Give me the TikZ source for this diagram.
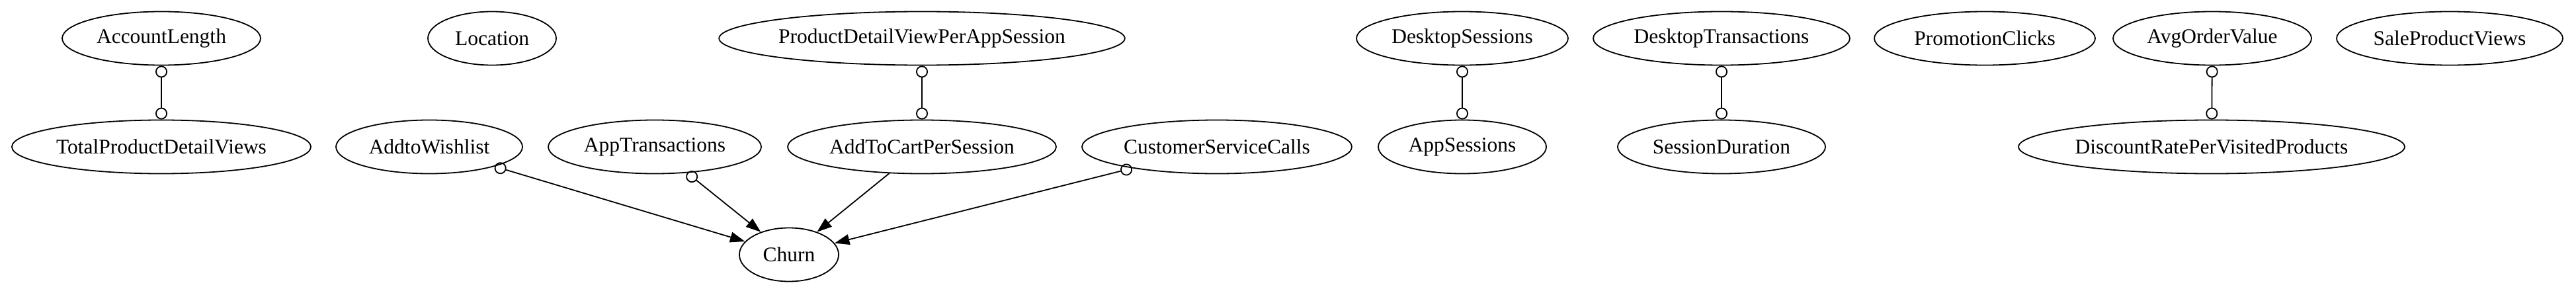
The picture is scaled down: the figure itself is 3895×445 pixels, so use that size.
\documentclass[tikz,border=0pt]{standalone}
\usepackage{fontspec}
\setmainfont{Liberation Serif}
\usetikzlibrary{shapes.geometric,arrows.meta}

\begin{document}
\begin{tikzpicture}[x=0.4444pt,y=0.4444pt,
  var/.style={draw,ellipse,line width=0.8pt,inner sep=0pt,minimum height=36pt,font=\fontsize{14}{16}\selectfont},
  link/.style={line width=0.8pt,{Circle[open,length=8pt,width=8pt]}-{Circle[open,length=8pt,width=8pt]}},
  cause/.style={line width=0.8pt,{Circle[open,length=8pt,width=8pt]}-{Triangle[length=10pt,width=7pt]}},
  plain/.style={line width=0.8pt,-{Triangle[length=10pt,width=7pt]}}]
\useasboundingbox (0,0) rectangle (3895,445);
% top row
\node[var,minimum width=133.3pt] (al) at (244,387) {AccountLength};
\node[var,minimum width=86.2pt] (loc) at (744,387) {Location};
\node[var,minimum width=266.7pt] (pdv) at (1394,387) {ProductDetailViewPerAppSession};
\node[var,minimum width=142.2pt] (ds) at (2211,387) {DesktopSessions};
\node[var,minimum width=172.4pt] (dt) at (2603,387) {DesktopTransactions};
\node[var,minimum width=148.4pt] (pc) at (3001,387) {PromotionClicks};
\node[var,minimum width=133.3pt] (aov) at (3345,387) {AvgOrderValue};
\node[var,minimum width=152pt] (spv) at (3704,387) {SaleProductViews};
% second row
\node[var,minimum width=200.9pt] (tpdv) at (244,223) {TotalProductDetailViews};
\node[var,minimum width=125.3pt] (wish) at (649,223) {AddtoWishlist};
\node[var,minimum width=143.1pt] (at) at (990,223) {AppTransactions};
\node[var,minimum width=180.4pt] (cart) at (1394,223) {AddToCartPerSession};
\node[var,minimum width=181.3pt] (csc) at (1840,223) {CustomerServiceCalls};
\node[var,minimum width=112.9pt] (as) at (2211,223) {AppSessions};
\node[var,minimum width=139.6pt] (sd) at (2603,223) {SessionDuration};
\node[var,minimum width=254.2pt] (drp) at (3344,223) {DiscountRatePerVisitedProducts};
% target
\node[var,minimum width=66.7pt] (churn) at (1193,60) {Churn};

\draw [link] (al) -- (tpdv);
\draw [link] (pdv) -- (cart);
\draw [link] (ds) -- (as);
\draw [link] (dt) -- (sd);
\draw [link] (aov) -- (drp);
\draw [cause] (wish) -- (churn);
\draw [cause] (at) -- (churn);
\draw [plain] (cart) -- (churn);
\draw [cause] (csc) -- (churn);
\end{tikzpicture}
\end{document}
